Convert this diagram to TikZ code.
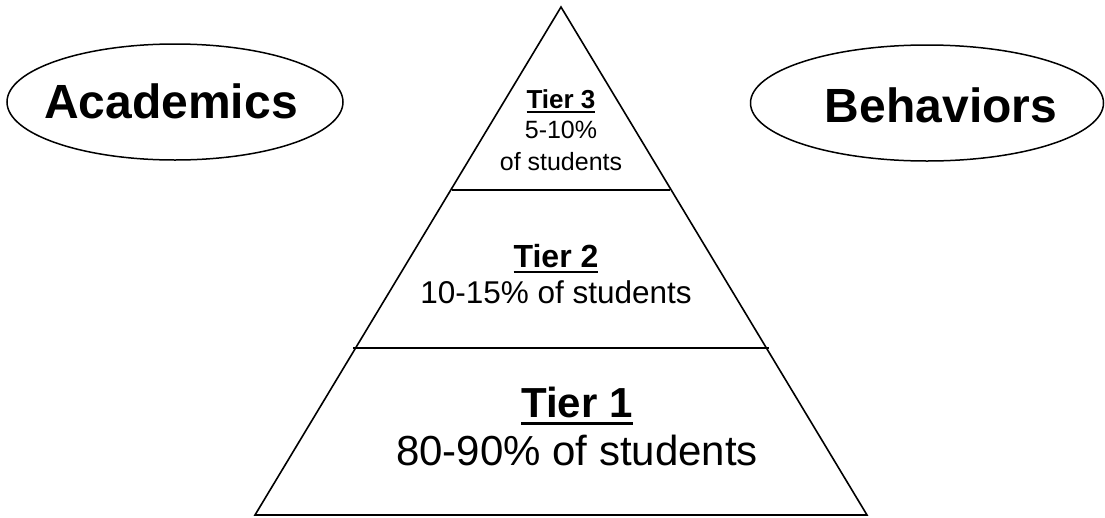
\documentclass[tikz,border=0pt]{standalone}
\usepackage{fontspec}
\setmainfont{Liberation Sans}
\usepackage{tikz}
\usetikzlibrary{shapes.geometric}
% underline with a rule that scales with the font
\newcommand{\tierul}[1]{\setbox0\hbox{#1}\rlap{\rule[-0.2em]{\wd0}{0.09em}}\box0}

\begin{document}
\begin{tikzpicture}[x=1pt, y=-1pt,
    outline/.style={draw=black, line width=1.6pt},
    topic/.style={ellipse, draw=black, line width=1.5pt, minimum width=336pt, minimum height=116pt, inner sep=0pt},
    topictext/.style={font=\fontsize{48}{54}\selectfont\bfseries, anchor=base},
    tierhead/.style={anchor=base, inner sep=0pt},
    tierbody/.style={anchor=base, inner sep=0pt}]
    \useasboundingbox (0,0) rectangle (1105,517);

    % Side topics
    \node[topic] (acad) at (175,102) {};
    \node[topictext] (acadtext) at (171,118) {Academics};
    \node[topic, minimum width=353pt] (behav) at (927,103) {};
    \node[topictext] (behavtext) at (941,122) {Behaviors};

    % Pyramid outline
    \coordinate (apex) at (561,7);
    \coordinate (baseL) at (255,515);
    \coordinate (baseR) at (867,515);
    \draw[outline, line join=miter] (apex) -- (baseL) -- (baseR) -- cycle;

    % Tier dividers
    \coordinate (div3L) at (452,190);
    \coordinate (div3R) at (670,190);
    \coordinate (div2L) at (353,348);
    \coordinate (div2R) at (769,348);
    \draw[outline] (div3L) -- (div3R);
    \draw[outline] (div2L) -- (div2R);

    % Tier 3
    \node[tierhead, font=\fontsize{26}{30}\selectfont\bfseries] (t3head) at (561,108) {\tierul{Tier 3}};
    \node[tierbody, font=\fontsize{25}{30}\selectfont] (t3pct) at (561,138) {5-10\%};
    \node[tierbody, font=\fontsize{25}{30}\selectfont] (t3stud) at (561,170) {of students};

    % Tier 2
    \node[tierhead, font=\fontsize{32}{38}\selectfont\bfseries] (t2head) at (556,267) {\tierul{Tier 2}};
    \node[tierbody, font=\fontsize{31.5}{38}\selectfont] (t2pct) at (556,303) {10-15\% of students};

    % Tier 1
    \node[tierhead, font=\fontsize{42}{50}\selectfont\bfseries] (t1head) at (577,417) {\tierul{Tier 1}};
    \node[tierbody, font=\fontsize{42}{50}\selectfont] (t1pct) at (577,465) {80-90\% of students};
\end{tikzpicture}
\end{document}
